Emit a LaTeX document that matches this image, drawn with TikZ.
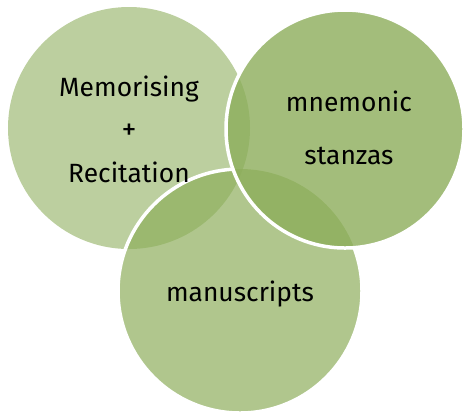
\documentclass[tikz,border=0pt]{standalone}
\usepackage{fontspec}
\setmainfont{Fira Sans}
\definecolor{leaf}{RGB}{140,173,90}

\begin{document}
\begin{tikzpicture}[x=1bp,y=-1bp,
		blob/.style={circle,inner sep=0pt,fill=leaf,minimum size=#1},
		ring/.style={draw=white,line width=3.5bp},
		lbl/.style={align=center,text=black,font=\fontsize{26.5}{43}\selectfont}
	]
	\useasboundingbox (0,0) rectangle (463,416);
	\node[blob=242bp,fill opacity=.58] (mem) at (129,128) {};
	\node[blob=244bp,fill opacity=.69] (man) at (240,291) {};
	\begin{scope}[even odd rule]
		\clip (0,0) rectangle (463,416) (345,129) circle[radius=119];
		\draw[ring] (man.center) circle[radius=122];
	\end{scope}
	\node[blob=238bp,fill opacity=.8] (mne) at (345,129) {};
	\draw[ring] (mne.center) circle[radius=119];
	\node[lbl] (memtxt) at (129,129.5) {Memorising\\{\fontsize{30}{43}\selectfont+}\\Recitation};
	\node[lbl,font=\fontsize{26.5}{53}\selectfont] (mnetxt) at (349,128) {mnemonic\\stanzas};
	\node[lbl] (mantxt) at (240,294) {manuscripts};
\end{tikzpicture}
\end{document}
